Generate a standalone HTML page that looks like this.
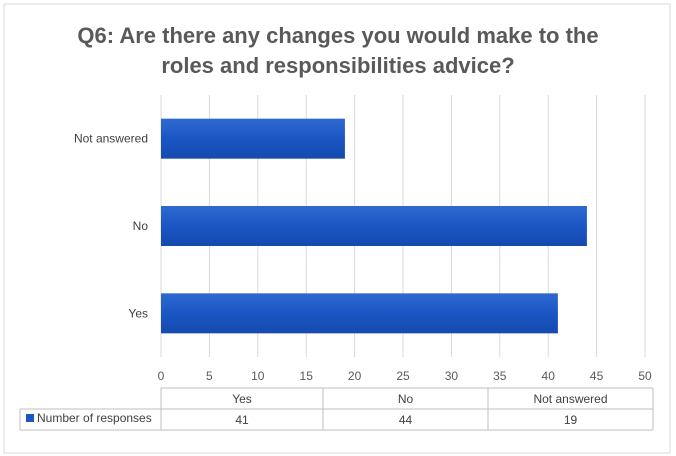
<!DOCTYPE html>
<html><head><meta charset="utf-8"><style>
body{margin:0;background:#fff;}
svg{display:block;font-family:"Liberation Sans",sans-serif;}
</style></head><body>
<svg width="676" height="456">
<defs><linearGradient id="g" x1="0" y1="0" x2="0" y2="1"><stop offset="0" stop-color="#2f68d0"/><stop offset="0.5" stop-color="#1a56c4"/><stop offset="1" stop-color="#154aae"/></linearGradient></defs>
<rect x="4" y="4" width="666" height="449" fill="#fff" stroke="#d9d9d9"/>
<text x="338" y="43" text-anchor="middle" font-size="22" font-weight="bold" fill="#595959">Q6: Are there any changes you would make to the</text>
<text x="338" y="73" text-anchor="middle" font-size="22" font-weight="bold" fill="#595959">roles and responsibilities advice?</text>
<g id="grid"></g><g id="bars"></g><g id="labels"></g><g id="table"></g>
</svg>
<script>
const categories=["Yes","No","Not answered"];
const values=[41,44,19];
const ticks=[0,5,10,15,20,25,30,35,40,45,50];
const NS="http://www.w3.org/2000/svg";
const x0=161,x1=645,max=50,yTop=95,yBot=357;
const xs=v=>x0+(x1-x0)*v/max;
const band=(yBot-yTop)/categories.length;
function mk(t,a,p,txt){const e=document.createElementNS(NS,t);for(const k in a)e.setAttribute(k,a[k]);if(txt!==undefined)e.textContent=txt;document.getElementById(p).appendChild(e);return e;}
ticks.forEach(t=>{
 const l=mk('line',{x1:xs(t),x2:xs(t),y1:yTop,y2:yBot,stroke:'#d9d9d9'},'grid');
 
 
 const tx=mk('text',{x:xs(t),y:380,'text-anchor':'middle','font-size':12,fill:'#595959'},'labels',t);
 
 
});
categories.forEach((c,i)=>{
 const cy=yBot-band*(i+0.5);
 const b=mk('rect',{x:x0,y:cy-20,width:xs(values[i])-x0,height:40,fill:'url(#g)'},'bars');
 
 
 const t=mk('text',{x:148,y:cy+4,'text-anchor':'end','font-size':12,fill:'#404040'},'labels',c);
 
 
});
// table
const tb='table',ty=388,rh=21,cols=[161,323,488,653];
const s='#bfbfbf';
mk('line',{x1:161,x2:653,y1:ty,y2:ty,stroke:s},tb);
mk('line',{x1:20,x2:653,y1:ty+rh,y2:ty+rh,stroke:s},tb);
mk('line',{x1:20,x2:653,y1:ty+2*rh,y2:ty+2*rh,stroke:s},tb);
mk('line',{x1:20,x2:20,y1:ty+rh,y2:ty+2*rh,stroke:s},tb);
cols.forEach(x=>mk('line',{x1:x,x2:x,y1:ty,y2:ty+2*rh,stroke:s},tb));
const lk=mk('rect',{x:26,y:414,width:8,height:8,fill:'#1a56c4'},tb);


const lt=mk('text',{x:37,y:422,'font-size':12,fill:'#404040'},tb,'Number of responses');


categories.forEach((c,i)=>{
 const cx=(cols[i]+cols[i+1])/2;
 const h=mk('text',{x:cx,y:ty+15,'text-anchor':'middle','font-size':12,fill:'#404040'},tb,c);
 
 
 const v=mk('text',{x:cx,y:ty+rh+15,'text-anchor':'middle','font-size':12,fill:'#404040'},tb,values[i]);
 
 
});
</script>
</body></html>
